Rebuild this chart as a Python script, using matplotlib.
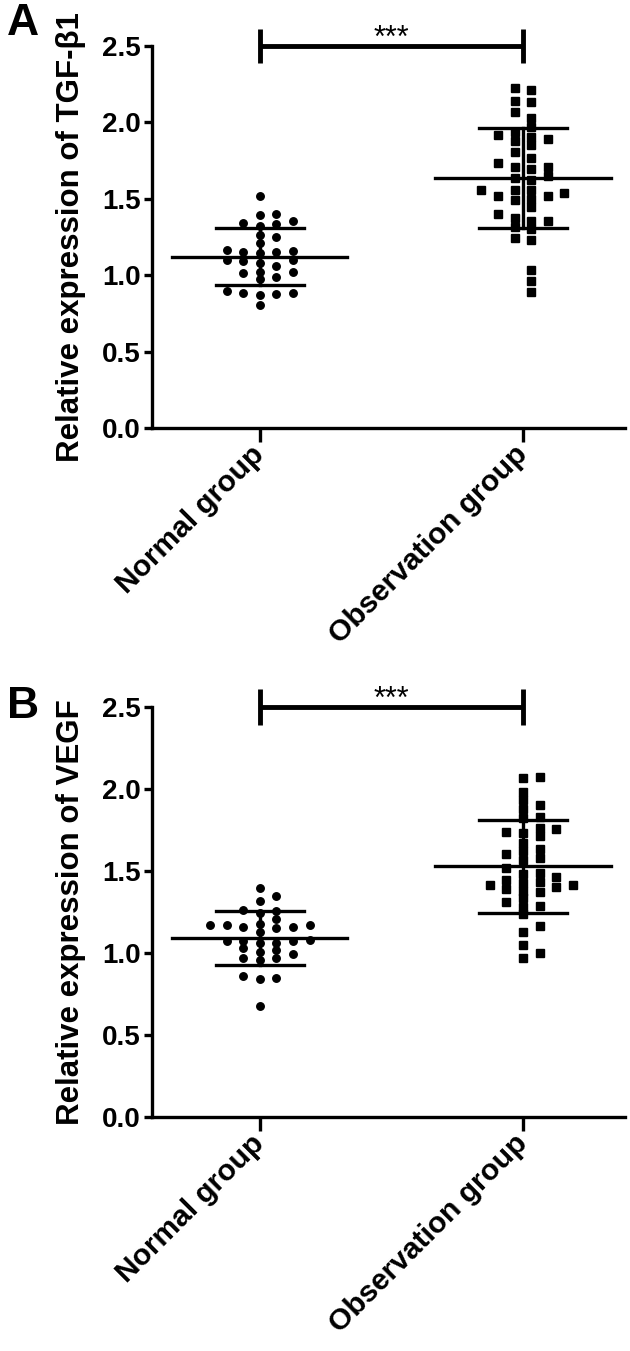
import numpy as np
import matplotlib
matplotlib.use('Agg')
import matplotlib.pyplot as plt

plt.rcParams['font.family'] = ['Liberation Sans', 'DejaVu Sans']
plt.rcParams['font.weight'] = 'bold'

# data
groups = ['Normal group', 'Observation group']
yticks = [0.0, 0.5, 1.0, 1.5, 2.0, 2.5]

tgf_normal = [1.518, 1.401, 1.396, 1.357, 1.333, 1.322, 1.344, 1.263, 1.252, 1.209,
              1.144, 1.150, 1.154, 1.161, 1.165, 1.082, 1.100, 1.100, 1.092, 1.024,
              1.061, 1.017, 1.024, 0.976, 0.987, 0.897, 0.878, 0.886, 0.869, 0.886,
              0.804]
tgf_obs = [2.211, 2.135, 2.069, 1.917, 1.852, 1.765, 1.710, 1.634, 1.520, 1.401,
           1.301, 1.231, 1.035, 0.963, 0.889,
           2.222, 2.139, 2.026, 1.967, 1.878, 1.808, 1.710, 1.649, 1.520, 1.448,
           1.376, 1.318, 1.246,
           1.902, 1.732, 1.558, 1.499, 1.355,
           1.939, 1.889, 1.693, 1.623, 1.558, 1.493, 1.355,
           1.558, 1.536]
tgf_mean = [1.122, 1.634]
tgf_sd = [0.185, 0.327]

vegf_normal = [1.396, 1.349, 1.321, 1.260, 1.264, 1.248, 1.207, 1.173, 1.162, 1.162,
               1.173, 1.152, 1.173, 1.179, 1.132, 1.081, 1.065, 1.075, 1.075, 1.077,
               1.061, 1.010, 1.030, 1.020, 0.996, 0.970, 0.970, 0.959, 0.863, 0.841,
               0.848, 0.679]
vegf_obs = [2.077, 1.935, 1.833, 1.717, 1.605, 1.518, 1.467, 1.427, 1.335, 1.240,
            1.166, 0.973,
            2.067, 1.904, 1.735, 1.634, 1.579, 1.416, 1.315, 1.284, 1.128, 1.051,
            1.982, 1.878, 1.823, 1.762, 1.674, 1.626, 1.569, 1.488, 1.437, 1.376,
            1.288, 1.004,
            1.738, 1.447, 1.390,
            1.758, 1.482, 1.382,
            1.402, 1.416]
vegf_mean = [1.091, 1.530]
vegf_sd = [0.165, 0.282]


def swarm(vals, thr, step, half):
    # place points in columns next to the group centre without overlap
    vals = np.asarray(vals)
    if half:
        cols = [0.5, -0.5, 1.5, -1.5, 2.5, -2.5, 3.5, -3.5, 4.5, -4.5]
    else:
        cols = [0, 1, -1, 2, -2, 3, -3, 4, -4, 5, -5]
    placed = {}
    offs = np.zeros(len(vals))
    for i in np.argsort(vals):
        for c in cols:
            if all(abs(vals[i] - y) >= thr for y in placed.get(c, [])):
                placed.setdefault(c, []).append(vals[i])
                offs[i] = c * step
                break
    return offs


fig = plt.figure(figsize=(6.3, 13.51), dpi=100)
W, H = 630, 1351

panels = [
    dict(rect=[152 / W, 1 - 428.3 / H, 473 / W, 382.6 / H], letter='A', ly=1 - 3 / H,
         ylabel='Relative expression of TGF-β1',
         data=[tgf_normal, tgf_obs], mean=tgf_mean, sd=tgf_sd, half=[False, True]),
    dict(rect=[152 / W, 1 - 1117.3 / H, 473 / W, 410 / H], letter='B', ly=1 - 686 / H,
         ylabel='Relative expression of VEGF',
         data=[vegf_normal, vegf_obs], mean=vegf_mean, sd=vegf_sd, half=[False, False]),
]

lw = 2.4
for p in panels:
    ax = fig.add_axes(p['rect'])
    ax.set_xlim(-0.41, 1.388)
    ax.set_ylim(0, 2.5)
    h_px = p['rect'][3] * H
    thr = 7.2 * 2.5 / h_px
    markers = ['o', 's']
    for i, vals in enumerate(p['data']):
        offs = swarm(vals, thr, 0.063, p['half'][i])
        ax.plot(i + offs, vals, linestyle='none', marker=markers[i],
                markersize=5.4, color='black', clip_on=False, zorder=2)
        m, s = p['mean'][i], p['sd'][i]
        ax.plot([i - 0.333, i + 0.333], [m, m], color='black', lw=lw, zorder=3)
        ax.plot([i - 0.166, i + 0.166], [m + s, m + s], color='black', lw=lw, zorder=3)
        ax.plot([i - 0.166, i + 0.166], [m - s, m - s], color='black', lw=lw, zorder=3)
        ax.plot([i, i], [m - s, m + s], color='black', lw=lw, zorder=3)

    # significance bracket
    ax.plot([0, 1], [2.5, 2.5], color='black', lw=3.5, clip_on=False,
            solid_capstyle='butt')
    for xb in [0, 1]:
        ax.plot([xb, xb], [2.39, 2.61], color='black', lw=3.5, clip_on=False,
                solid_capstyle='butt')
    px = 2.5 / h_px
    ax.text(0.5, 2.5 - 1 * px, '***', ha='center', va='baseline', fontsize=22,
            fontweight='normal')

    ax.spines['top'].set_visible(False)
    ax.spines['right'].set_visible(False)
    ax.spines['left'].set_linewidth(lw)
    ax.spines['bottom'].set_linewidth(lw)
    ax.set_yticks(yticks)
    ax.set_yticklabels([f'{t:.1f}' for t in yticks])
    ax.set_xticks([0, 1])
    ax.set_xticklabels(groups, rotation=45, ha='right', va='center',
                       rotation_mode='anchor')
    ax.tick_params(axis='y', length=6, width=lw, labelsize=20, pad=2)
    ax.tick_params(axis='x', length=10, width=lw, labelsize=21.5, pad=6)
    ax.set_ylabel(p['ylabel'], fontsize=22.5, fontweight='bold')
    ax.yaxis.set_label_coords(-0.14, 0.5)
    fig.text(7 / W, p['ly'], p['letter'], fontsize=32, fontweight='bold',
             ha='left', va='top')

fig.savefig('out.png', dpi=100)
